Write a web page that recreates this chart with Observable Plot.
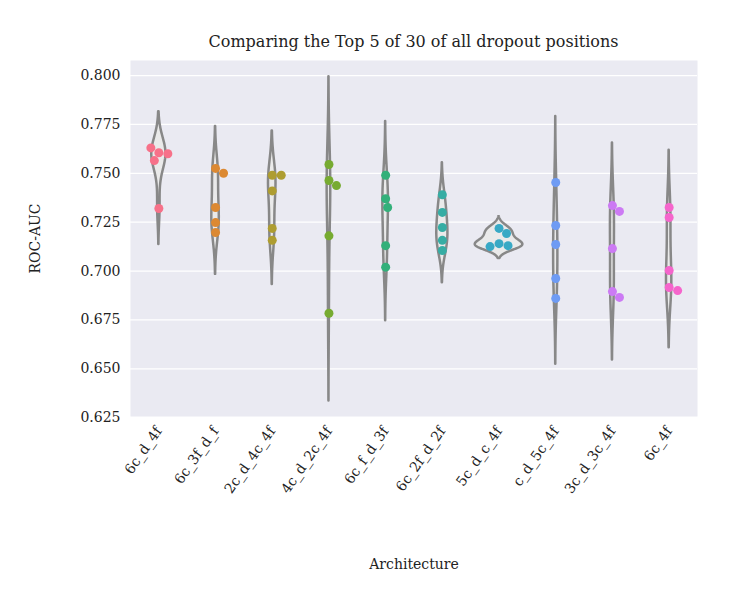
<!DOCTYPE html>
<html><head><meta charset="utf-8">
<script src="https://cdn.jsdelivr.net/npm/d3@7"></script>
<script src="https://cdn.jsdelivr.net/npm/@observablehq/plot@0.6"></script>
<style>
body{margin:0;background:#fff;font-family:"DejaVu Serif",serif;}
#title{width:750px;box-sizing:border-box;padding-left:130px;padding-right:53px;text-align:center;line-height:84px;font-size:16px;height:60px;margin-bottom:-15px;color:#222}
</style></head><body>
<div id="title">Comparing the Top 5 of 30 of all dropout positions</div>
<div id="chart"></div>
<script>
const archs = ["6c_d_4f","6c_3f_d_f","2c_d_4c_4f","4c_d_2c_4f","6c_f_d_3f","6c_2f_d_2f","5c_d_c_4f","c_d_5c_4f","3c_d_3c_4f","6c_4f"];
const scores = [
  [0.7605,0.7600,0.7565,0.7630,0.7320],
  [0.7525,0.7500,0.7325,0.7248,0.7197],
  [0.7490,0.7490,0.7410,0.7218,0.7157],
  [0.7545,0.7463,0.7437,0.7180,0.6784],
  [0.7490,0.7370,0.7325,0.7130,0.7020],
  [0.7390,0.7300,0.7223,0.7157,0.7105],
  [0.7218,0.7192,0.7140,0.7130,0.7125],
  [0.7453,0.7233,0.7136,0.6962,0.6860],
  [0.7335,0.7305,0.7115,0.6895,0.6865],
  [0.7325,0.7274,0.7003,0.6916,0.6900]
];
const colors = ["#f77189","#dc8932","#ae9d31","#77ab31","#33b07a","#36ada4","#38a9c5","#6e9bf4","#cc7af4","#f565cc"];

const yDom = [0.6256, 0.8077];
const H = 555, mt = 15, mb = 184, ml = 130, mr = 53;
const pxY = (H - mt - mb) / (yDom[1] - yDom[0]);
const pxX = (750 - ml - mr) / 10;

// violins: gaussian KDE, Scott bandwidth, cut = 2
const viol = [];
let maxD = 0;
const dens = scores.map((v, i) => {
  const n = v.length, sd = d3.deviation(v);
  const bw = sd * Math.pow(n, -1/5);
  const lo = d3.min(v) - 2*bw, hi = d3.max(v) + 2*bw;
  return d3.range(121).map(k => {
    const y = lo + (hi - lo) * k / 120;
    const d = d3.mean(v, s => Math.exp(-0.5*((y - s)/bw)**2)) / (bw*Math.sqrt(2*Math.PI));
    maxD = Math.max(maxD, d);
    return {i, y, d};
  });
});
dens.flat().forEach(p => {
  const w = 0.42 * Math.pow(p.d/maxD, 1.35);
  viol.push({arch: p.i, y: p.y, x1: p.i - w, x2: p.i + w});
});

// swarm placement
const r = 4.5;
const dots = [];
scores.forEach((v, i) => {
  const placed = [];
  v.forEach(s => {
    let off = 0;
    for (let k = 0; k < 40; k++) {
      const cand = k === 0 ? 0 : (k % 2 ? 1 : -1) * Math.ceil(k/2) * 0.5;
      const ok = placed.every(p => Math.hypot((p.o - cand), (p.s - s) * pxY) >= 2*r);
      if (ok) { off = cand; break; }
    }
    placed.push({o: off, s});
    dots.push({x: i + off / pxX, y: s, c: colors[i]});
  });
});

const chart = Plot.plot({
  width: 750, height: H,
  marginTop: mt, marginBottom: mb, marginLeft: ml, marginRight: mr,
  style: {fontFamily: "DejaVu Serif, serif", fontSize: "13px", color: "#222"},
  x: {domain: [-0.5, 9.5], ticks: d3.range(10), tickFormat: i => archs[i], tickRotate: -55, tickSize: 0, tickPadding: 12, label: "Architecture", labelAnchor: "center", labelArrow: "none", labelOffset: 152},
  y: {domain: yDom, ticks: d3.range(0.625, 0.8001, 0.025), tickFormat: ".3f", tickSize: 0, tickPadding: 10, label: "ROC-AUC", labelAnchor: "center", labelArrow: "none", labelOffset: 100},
  marks: [
    Plot.frame({fill: "#eaeaf2", stroke: "none"}),
    Plot.gridY({ticks: d3.range(0.625, 0.8001, 0.025), stroke: "#fff", strokeOpacity: 1, strokeWidth: 1.3}),
    Plot.areaX(viol, {y: "y", x1: "x1", x2: "x2", z: "arch", fill: "#eaeaea", stroke: "#888", strokeWidth: 2.5, curve: "linear"}),
    Plot.dot(dots, {x: "x", y: "y", fill: "c", r: r, stroke: "none"})
  ]
});
chart.querySelectorAll("text").forEach(t => t.setAttribute("font-size", t.closest("[aria-label$='label']") ? "14" : "13"));
d3.select("#chart").append(() => chart);
</script>
</body></html>
